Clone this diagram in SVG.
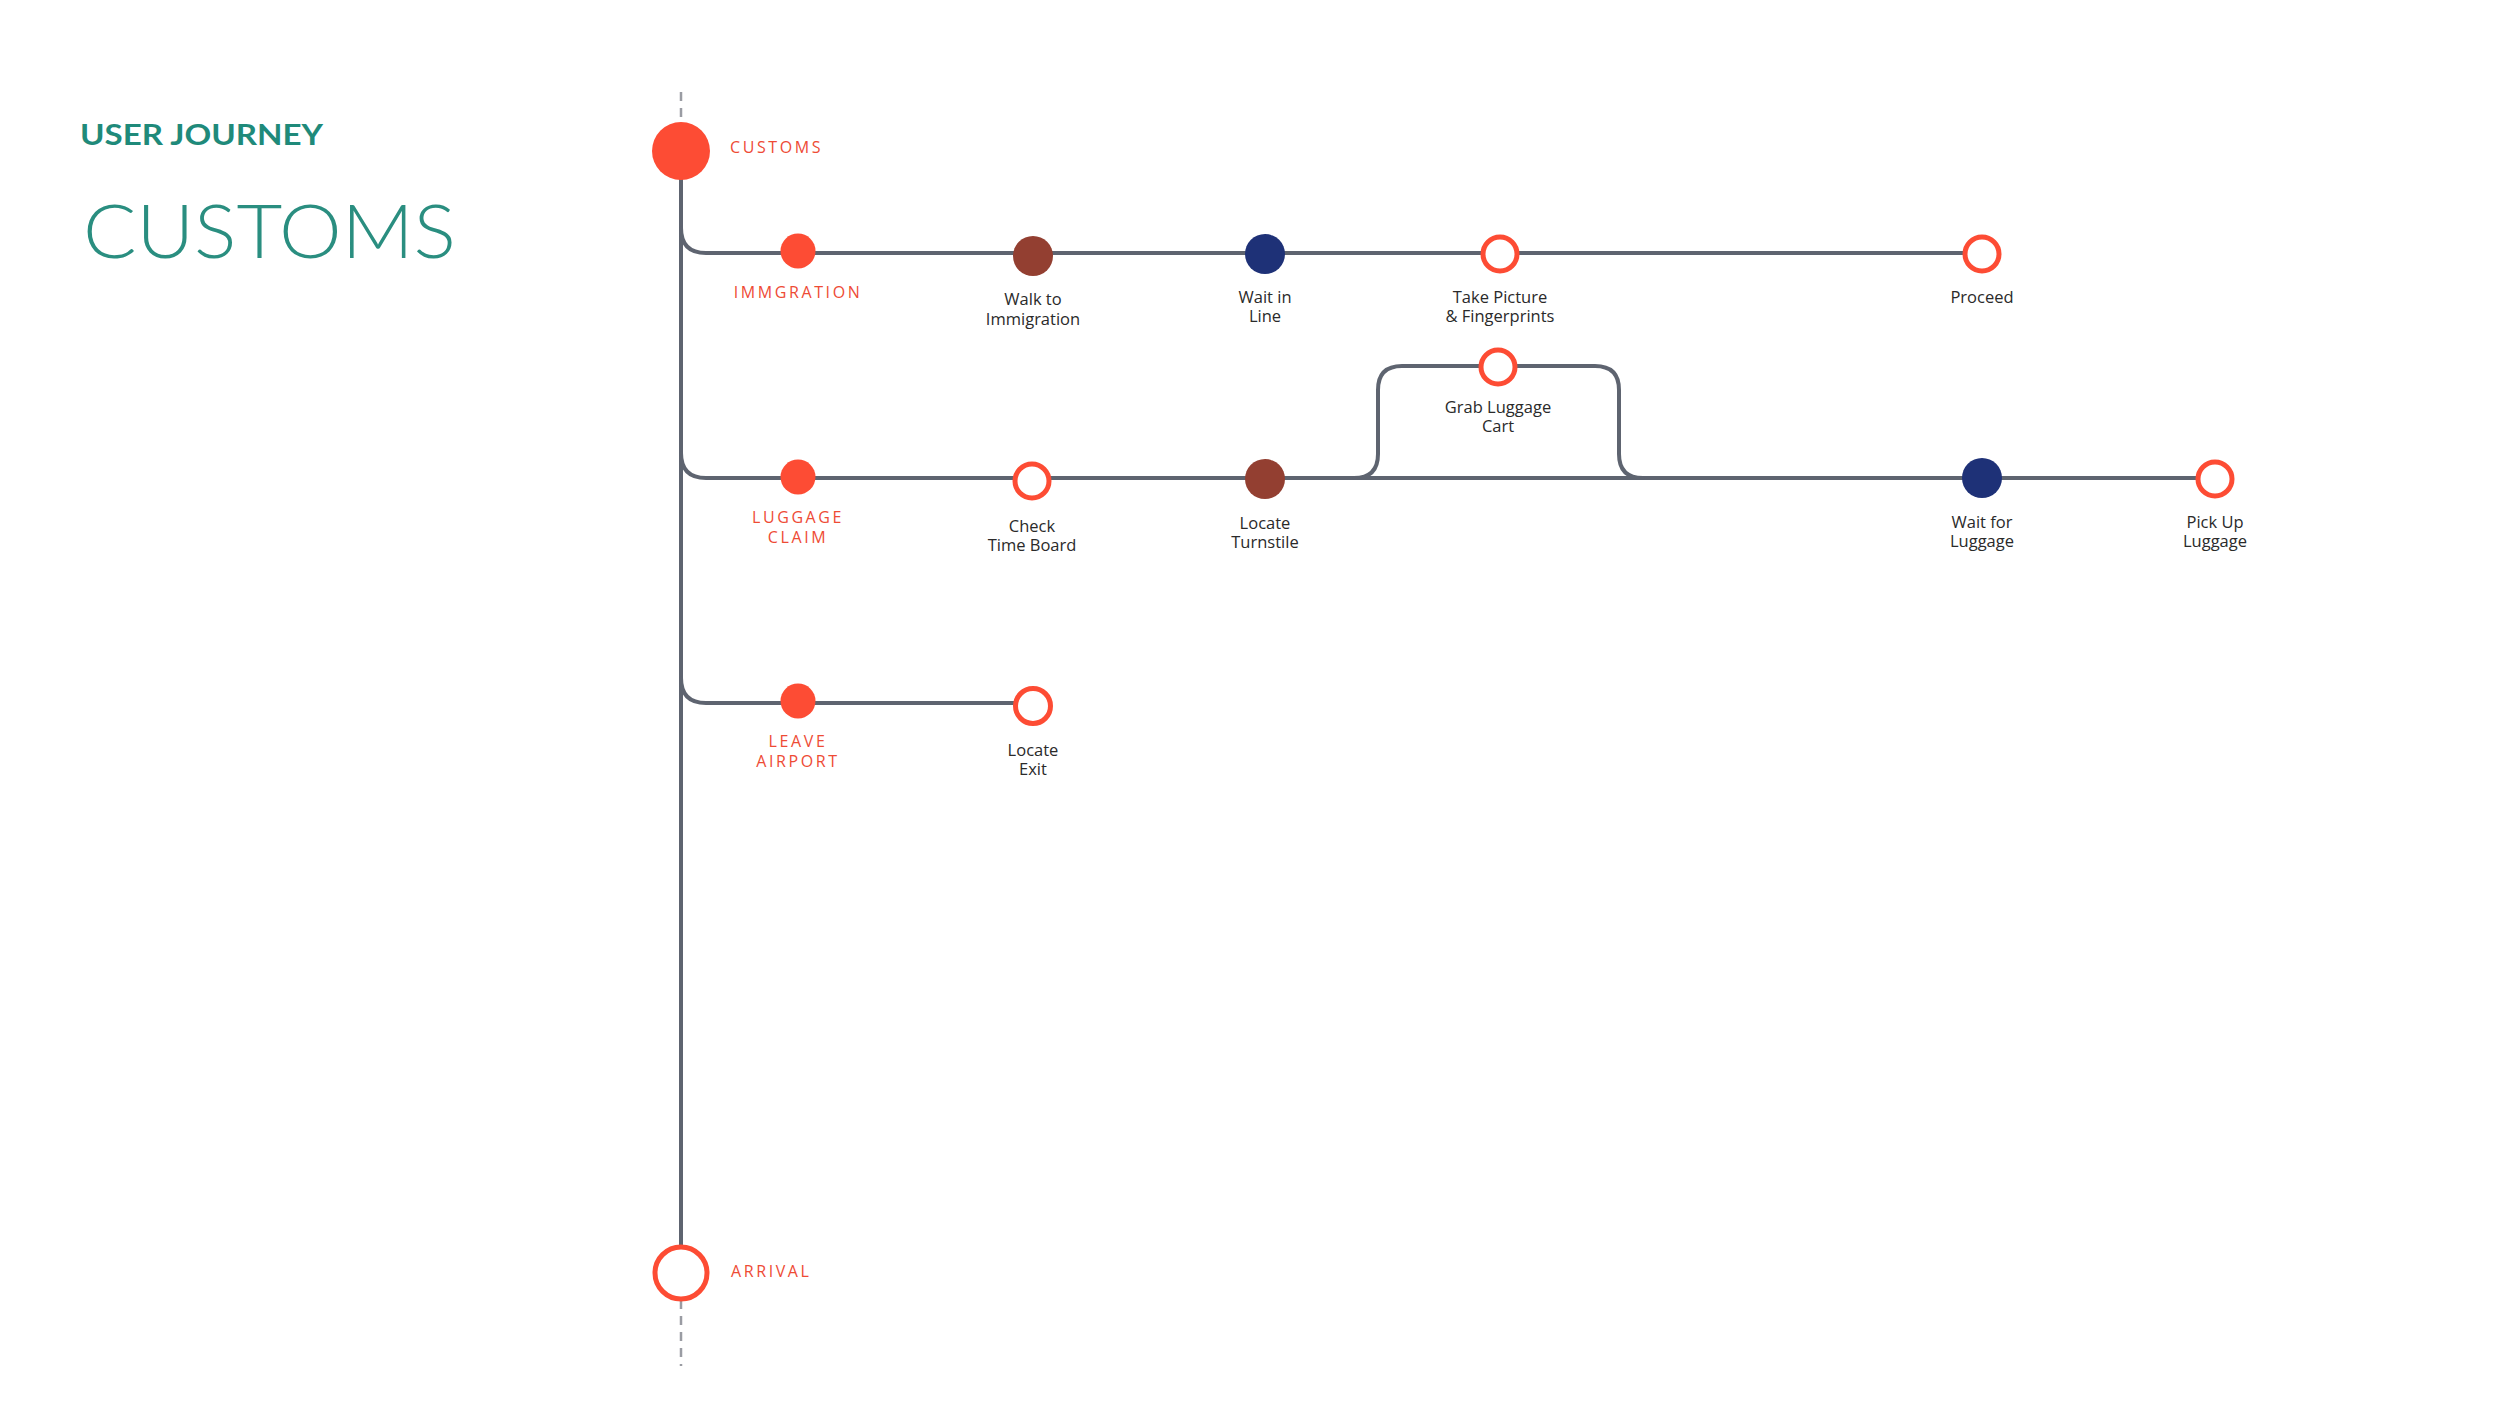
<svg xmlns="http://www.w3.org/2000/svg" width="2500" height="1407" viewBox="0 0 2500 1407">
<style>
.line{fill:none;stroke:#5E6470;stroke-width:4;stroke-linecap:round;stroke-linejoin:round}
.dash{fill:none;stroke:#9A9CA3;stroke-width:2.5;stroke-dasharray:9 7}
.dot{fill:#FD4C34}
.open{fill:#FFFFFF;stroke:#FD4C34;stroke-width:5}
.brown{fill:#933F31}
.navy{fill:#1E3177}
.stage{font-family:"Open Sans","Liberation Sans",sans-serif;font-size:16px;font-weight:500;fill:#EE4B35;letter-spacing:2.6px;text-anchor:middle}
.lbl{font-family:"Open Sans","Liberation Sans",sans-serif;font-size:16.5px;font-weight:400;fill:#2A2A2A;text-anchor:middle}
</style>
<rect width="2500" height="1407" fill="#FFFFFF"/>
<g id="title">
<text x="80" y="145" font-family="Lato,'Liberation Sans',sans-serif" font-size="28" font-weight="bold" fill="#1F8A7A" textLength="243" lengthAdjust="spacingAndGlyphs">USER JOURNEY</text>
<text x="83" y="258" font-family="Lato,'Liberation Sans',sans-serif" font-size="74" font-weight="300" fill="#2A8E80" textLength="373" lengthAdjust="spacingAndGlyphs">CUSTOMS</text>
</g>
<g id="connectors">
<line class="dash" x1="681" y1="92" x2="681" y2="121"/>
<line class="dash" x1="681" y1="1300" x2="681" y2="1366"/>
<line class="line" x1="681" y1="150" x2="681" y2="1273"/>
<path class="line" d="M681,228 Q681,253 706,253 L1982,253"/>
<path class="line" d="M681,453 Q681,478 706,478 L2215,478"/>
<path class="line" d="M681,678 Q681,703 706,703 L1033,703"/>
<path class="line" d="M1354,478 Q1378,478 1378,454 L1378,390 Q1378,366 1402,366 L1595,366 Q1619,366 1619,390 L1619,454 Q1619,478 1643,478"/>
</g>
<g id="customs">
<circle cx="681" cy="151" r="29" class="dot"/>
<text x="730" y="153" class="stage" style="text-anchor:start">CUSTOMS</text>
</g>
<g id="arrival">
<circle cx="681" cy="1273" r="26" class="open"/>
<text x="731" y="1277" class="stage" style="text-anchor:start">ARRIVAL</text>
</g>
<g id="immigration">
<circle cx="798" cy="251" r="17.5" class="dot"/>
<text x="798" y="298" class="stage">IMMGRATION</text>
</g>
<g id="walk-to-immigration">
<circle cx="1033" cy="256" r="20" class="brown"/>
<text x="1033" y="305" class="lbl">Walk to</text>
<text x="1033" y="325" class="lbl">Immigration</text>
</g>
<g id="wait-in-line">
<circle cx="1265" cy="254" r="20" class="navy"/>
<text x="1265" y="303" class="lbl">Wait in</text>
<text x="1265" y="322" class="lbl">Line</text>
</g>
<g id="take-picture">
<circle cx="1500" cy="254" r="17" class="open"/>
<text x="1500" y="303" class="lbl">Take Picture</text>
<text x="1500" y="322" class="lbl">&amp; Fingerprints</text>
</g>
<g id="proceed">
<circle cx="1982" cy="254" r="17" class="open"/>
<text x="1982" y="303" class="lbl">Proceed</text>
</g>
<g id="luggage-claim">
<circle cx="798" cy="477" r="17.5" class="dot"/>
<text x="798" y="523" class="stage">LUGGAGE</text>
<text x="798" y="543" class="stage">CLAIM</text>
</g>
<g id="check-time-board">
<circle cx="1032" cy="481" r="17" class="open"/>
<text x="1032" y="532" class="lbl">Check</text>
<text x="1032" y="551" class="lbl">Time Board</text>
</g>
<g id="locate-turnstile">
<circle cx="1265" cy="479" r="20" class="brown"/>
<text x="1265" y="529" class="lbl">Locate</text>
<text x="1265" y="548" class="lbl">Turnstile</text>
</g>
<g id="grab-luggage-cart">
<circle cx="1498" cy="367" r="17" class="open"/>
<text x="1498" y="413" class="lbl">Grab Luggage</text>
<text x="1498" y="432" class="lbl">Cart</text>
</g>
<g id="wait-for-luggage">
<circle cx="1982" cy="478" r="20" class="navy"/>
<text x="1982" y="528" class="lbl">Wait for</text>
<text x="1982" y="547" class="lbl">Luggage</text>
</g>
<g id="pick-up-luggage">
<circle cx="2215" cy="479" r="17" class="open"/>
<text x="2215" y="528" class="lbl">Pick Up</text>
<text x="2215" y="547" class="lbl">Luggage</text>
</g>
<g id="leave-airport">
<circle cx="798" cy="701" r="17.5" class="dot"/>
<text x="798" y="747" class="stage">LEAVE</text>
<text x="798" y="767" class="stage">AIRPORT</text>
</g>
<g id="locate-exit">
<circle cx="1033" cy="706" r="17.5" class="open"/>
<text x="1033" y="756" class="lbl">Locate</text>
<text x="1033" y="775" class="lbl">Exit</text>
</g>
</svg>
